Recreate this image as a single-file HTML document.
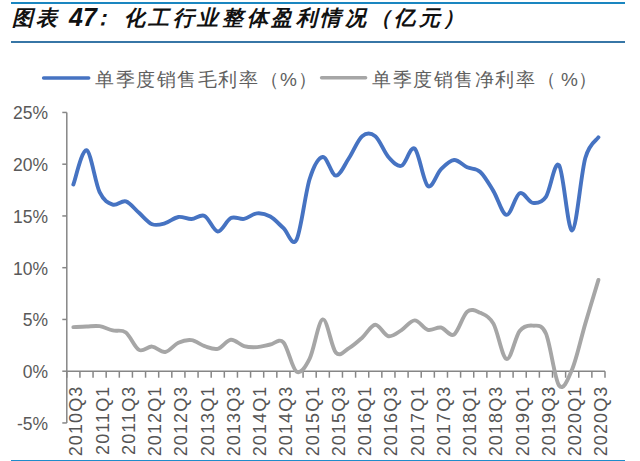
<!DOCTYPE html>
<html><head><meta charset="utf-8">
<style>
html,body{margin:0;padding:0;background:#fff;width:640px;height:461px;overflow:hidden;position:relative;font-family:"Liberation Sans",sans-serif;}
.hl{position:absolute;left:11px;width:614px;height:2px;}
.title{position:absolute;top:3px;font-size:21px;font-weight:bold;font-style:italic;color:#111;letter-spacing:3px;white-space:nowrap;line-height:30px;}
.pc{font-size:16px;top:69px;}
.t47{font-size:25px;letter-spacing:0;top:2px;}
.leg{position:absolute;top:68px;font-size:19px;color:#5f5f5f;white-space:nowrap;line-height:24px;letter-spacing:1.57px;}
.yl{position:absolute;right:592px;width:60px;text-align:right;font-size:17.5px;color:#595959;line-height:21px;}
.xl{position:absolute;top:387px;width:0;height:0;}
.xl{font-size:18px;color:#595959;}
svg{position:absolute;left:0;top:0;}
</style></head><body>
<div class="hl" style="top:2px;background:#1a86c0"></div>
<div class="hl" style="top:41px;background:#3776a6"></div>
<div class="hl" style="top:460px;height:1px;background:#1e8ccb"></div>
<div class="title" style="left:12px">图表</div><div class="title t47" style="left:69px">47</div><div class="title" style="left:92px">：</div><div class="title" style="left:123.6px;letter-spacing:3.6px">化工行业整体盈利情况（亿元）</div>
<svg width="640" height="461" viewBox="0 0 640 461">
<line x1="43.6" y1="78" x2="88.7" y2="78" stroke="#4673c2" stroke-width="3.5" stroke-linecap="round"/>
<line x1="321.6" y1="77.8" x2="365.6" y2="77.8" stroke="#a6a6a6" stroke-width="3.5" stroke-linecap="round"/>
<g stroke="#868686" stroke-width="1.5">
<line x1="66.8" y1="112.44999999999999" x2="66.8" y2="422.95"/>
<line x1="66.8" y1="371.2" x2="605.0" y2="371.2"/>
<line x1="66.80" y1="371.20" x2="66.80" y2="377.70"/><line x1="79.93" y1="371.20" x2="79.93" y2="377.70"/><line x1="93.05" y1="371.20" x2="93.05" y2="377.70"/><line x1="106.18" y1="371.20" x2="106.18" y2="377.70"/><line x1="119.31" y1="371.20" x2="119.31" y2="377.70"/><line x1="132.43" y1="371.20" x2="132.43" y2="377.70"/><line x1="145.56" y1="371.20" x2="145.56" y2="377.70"/><line x1="158.69" y1="371.20" x2="158.69" y2="377.70"/><line x1="171.81" y1="371.20" x2="171.81" y2="377.70"/><line x1="184.94" y1="371.20" x2="184.94" y2="377.70"/><line x1="198.07" y1="371.20" x2="198.07" y2="377.70"/><line x1="211.20" y1="371.20" x2="211.20" y2="377.70"/><line x1="224.32" y1="371.20" x2="224.32" y2="377.70"/><line x1="237.45" y1="371.20" x2="237.45" y2="377.70"/><line x1="250.58" y1="371.20" x2="250.58" y2="377.70"/><line x1="263.70" y1="371.20" x2="263.70" y2="377.70"/><line x1="276.83" y1="371.20" x2="276.83" y2="377.70"/><line x1="289.96" y1="371.20" x2="289.96" y2="377.70"/><line x1="303.08" y1="371.20" x2="303.08" y2="377.70"/><line x1="316.21" y1="371.20" x2="316.21" y2="377.70"/><line x1="329.34" y1="371.20" x2="329.34" y2="377.70"/><line x1="342.46" y1="371.20" x2="342.46" y2="377.70"/><line x1="355.59" y1="371.20" x2="355.59" y2="377.70"/><line x1="368.72" y1="371.20" x2="368.72" y2="377.70"/><line x1="381.84" y1="371.20" x2="381.84" y2="377.70"/><line x1="394.97" y1="371.20" x2="394.97" y2="377.70"/><line x1="408.10" y1="371.20" x2="408.10" y2="377.70"/><line x1="421.22" y1="371.20" x2="421.22" y2="377.70"/><line x1="434.35" y1="371.20" x2="434.35" y2="377.70"/><line x1="447.48" y1="371.20" x2="447.48" y2="377.70"/><line x1="460.60" y1="371.20" x2="460.60" y2="377.70"/><line x1="473.73" y1="371.20" x2="473.73" y2="377.70"/><line x1="486.86" y1="371.20" x2="486.86" y2="377.70"/><line x1="499.99" y1="371.20" x2="499.99" y2="377.70"/><line x1="513.11" y1="371.20" x2="513.11" y2="377.70"/><line x1="526.24" y1="371.20" x2="526.24" y2="377.70"/><line x1="539.37" y1="371.20" x2="539.37" y2="377.70"/><line x1="552.49" y1="371.20" x2="552.49" y2="377.70"/><line x1="565.62" y1="371.20" x2="565.62" y2="377.70"/><line x1="578.75" y1="371.20" x2="578.75" y2="377.70"/><line x1="591.87" y1="371.20" x2="591.87" y2="377.70"/><line x1="605.00" y1="371.20" x2="605.00" y2="377.70"/><line x1="62.30" y1="112.45" x2="66.80" y2="112.45"/><line x1="62.30" y1="164.20" x2="66.80" y2="164.20"/><line x1="62.30" y1="215.95" x2="66.80" y2="215.95"/><line x1="62.30" y1="267.70" x2="66.80" y2="267.70"/><line x1="62.30" y1="319.45" x2="66.80" y2="319.45"/><line x1="62.30" y1="371.20" x2="66.80" y2="371.20"/><line x1="62.30" y1="422.95" x2="66.80" y2="422.95"/>
</g>
<g font-family="Liberation Sans" font-size="18" fill="#555555" letter-spacing="1.1"><text transform="translate(82.36,385.6) rotate(-90)" text-anchor="end">2010Q3</text><text transform="translate(108.62,385.6) rotate(-90)" text-anchor="end">2011Q1</text><text transform="translate(134.87,385.6) rotate(-90)" text-anchor="end">2011Q3</text><text transform="translate(161.12,385.6) rotate(-90)" text-anchor="end">2012Q1</text><text transform="translate(187.38,385.6) rotate(-90)" text-anchor="end">2012Q3</text><text transform="translate(213.63,385.6) rotate(-90)" text-anchor="end">2013Q1</text><text transform="translate(239.89,385.6) rotate(-90)" text-anchor="end">2013Q3</text><text transform="translate(266.14,385.6) rotate(-90)" text-anchor="end">2014Q1</text><text transform="translate(292.39,385.6) rotate(-90)" text-anchor="end">2014Q3</text><text transform="translate(318.65,385.6) rotate(-90)" text-anchor="end">2015Q1</text><text transform="translate(344.90,385.6) rotate(-90)" text-anchor="end">2015Q3</text><text transform="translate(371.15,385.6) rotate(-90)" text-anchor="end">2016Q1</text><text transform="translate(397.41,385.6) rotate(-90)" text-anchor="end">2016Q3</text><text transform="translate(423.66,385.6) rotate(-90)" text-anchor="end">2017Q1</text><text transform="translate(449.91,385.6) rotate(-90)" text-anchor="end">2017Q3</text><text transform="translate(476.17,385.6) rotate(-90)" text-anchor="end">2018Q1</text><text transform="translate(502.42,385.6) rotate(-90)" text-anchor="end">2018Q3</text><text transform="translate(528.68,385.6) rotate(-90)" text-anchor="end">2019Q1</text><text transform="translate(554.93,385.6) rotate(-90)" text-anchor="end">2019Q3</text><text transform="translate(581.18,385.6) rotate(-90)" text-anchor="end">2020Q1</text><text transform="translate(607.44,385.6) rotate(-90)" text-anchor="end">2020Q3</text></g>
<path d="M73.36,327.11 C75.55,327.01 82.11,326.64 86.49,326.49 C90.87,326.33 95.24,325.52 99.62,326.18 C103.99,326.83 108.37,329.37 112.74,330.42 C117.12,331.47 121.50,329.25 125.87,332.49 C130.25,335.73 134.62,347.53 139.00,349.88 C143.37,352.22 147.75,346.22 152.12,346.57 C156.50,346.91 160.88,352.59 165.25,351.95 C169.63,351.31 174.00,344.70 178.38,342.74 C182.75,340.77 187.13,339.58 191.50,340.15 C195.88,340.72 200.26,344.70 204.63,346.15 C209.01,347.60 213.38,349.91 217.76,348.84 C222.13,347.77 226.51,340.20 230.89,339.74 C235.26,339.27 239.64,344.82 244.01,346.05 C248.39,347.27 252.76,347.34 257.14,347.08 C261.51,346.83 265.89,345.29 270.27,344.50 C274.64,343.70 279.02,337.80 283.39,342.32 C287.77,346.84 292.14,368.91 296.52,371.61 C300.90,374.32 305.27,367.27 309.65,358.57 C314.02,349.88 318.40,320.43 322.77,319.45 C327.15,318.47 331.52,347.90 335.90,352.67 C340.28,357.45 344.65,350.62 349.03,348.12 C353.40,345.62 357.78,341.56 362.15,337.67 C366.53,333.77 370.90,324.97 375.28,324.73 C379.66,324.49 384.03,335.32 388.41,336.22 C392.78,337.11 397.16,332.75 401.53,330.11 C405.91,327.47 410.29,320.43 414.66,320.38 C419.04,320.33 423.41,328.61 427.79,329.80 C432.16,330.99 436.54,326.75 440.91,327.52 C445.29,328.30 449.67,337.10 454.04,334.46 C458.42,331.82 462.79,315.29 467.17,311.69 C471.54,308.08 475.92,310.84 480.30,312.83 C484.67,314.81 489.05,315.90 493.42,323.59 C497.80,331.28 502.17,357.74 506.55,358.99 C510.92,360.23 515.30,336.60 519.68,331.04 C524.05,325.49 528.43,325.26 532.80,325.66 C537.18,326.06 541.55,323.45 545.93,333.42 C550.30,343.39 554.68,379.51 559.06,385.48 C563.43,391.45 567.81,379.55 572.18,369.23 C576.56,358.92 580.93,338.48 585.31,323.59 C589.69,308.70 596.25,287.19 598.44,279.91" fill="none" stroke="#a6a6a6" stroke-width="3.9" stroke-linecap="round" stroke-linejoin="round"/>
<path d="M73.36,184.49 C75.55,178.78 82.11,148.95 86.49,150.23 C90.87,151.50 95.24,183.09 99.62,192.14 C103.99,201.20 108.37,203.01 112.74,204.56 C117.12,206.12 121.50,200.08 125.87,201.46 C130.25,202.84 134.62,209.05 139.00,212.84 C143.37,216.64 147.75,222.50 152.12,224.23 C156.50,225.95 160.88,224.40 165.25,223.19 C169.63,221.99 174.00,217.67 178.38,216.98 C182.75,216.29 187.13,219.23 191.50,219.06 C195.88,218.88 200.26,213.88 204.63,215.95 C209.01,218.02 213.38,231.13 217.76,231.47 C222.13,231.82 226.51,220.12 230.89,218.02 C235.26,215.92 239.64,219.62 244.01,218.85 C248.39,218.07 252.76,213.74 257.14,213.36 C261.51,212.98 265.89,214.12 270.27,216.57 C274.64,219.02 279.02,224.20 283.39,228.06 C287.77,231.92 292.14,247.93 296.52,239.75 C300.90,231.58 305.27,192.80 309.65,179.00 C314.02,165.20 318.40,157.52 322.77,156.96 C327.15,156.39 331.52,175.41 335.90,175.59 C340.28,175.76 344.65,164.54 349.03,157.99 C353.40,151.43 357.78,139.88 362.15,136.25 C366.53,132.63 370.90,132.81 375.28,136.25 C379.66,139.70 384.03,152.04 388.41,156.96 C392.78,161.87 397.16,167.13 401.53,165.75 C405.91,164.37 410.29,145.31 414.66,148.67 C419.04,152.04 423.41,182.49 427.79,185.94 C432.16,189.38 436.54,173.69 440.91,169.38 C445.29,165.06 449.67,160.41 454.04,160.06 C458.42,159.72 462.79,165.32 467.17,167.31 C471.54,169.29 475.92,168.00 480.30,171.96 C484.67,175.93 489.05,183.95 493.42,191.11 C497.80,198.27 502.17,214.57 506.55,214.91 C510.92,215.26 515.30,195.20 519.68,193.18 C524.05,191.16 528.43,202.20 532.80,202.81 C537.18,203.41 541.55,203.06 545.93,196.80 C550.30,190.54 554.68,159.63 559.06,165.24 C563.43,170.84 567.81,231.65 572.18,230.44 C576.56,229.23 580.93,173.51 585.31,157.99 C589.69,142.46 596.25,140.74 598.44,137.29" fill="none" stroke="#4673c2" stroke-width="3.9" stroke-linecap="round" stroke-linejoin="round"/>
</svg>
<div class="leg" style="left:95px">单季度销售毛利率（</div><div class="leg pc" style="left:280px">%</div><div class="leg" style="left:298px">）</div>
<div class="leg" style="left:372px">单季度销售净利率（</div><div class="leg pc" style="left:561px">%</div><div class="leg" style="left:578px">）</div>
<div class="yl" style="top:103.2px">25%</div><div class="yl" style="top:155.0px">20%</div><div class="yl" style="top:206.8px">15%</div><div class="yl" style="top:258.5px">10%</div><div class="yl" style="top:310.2px">5%</div><div class="yl" style="top:362.0px">0%</div><div class="yl" style="top:413.8px">-5%</div>
</body></html>
